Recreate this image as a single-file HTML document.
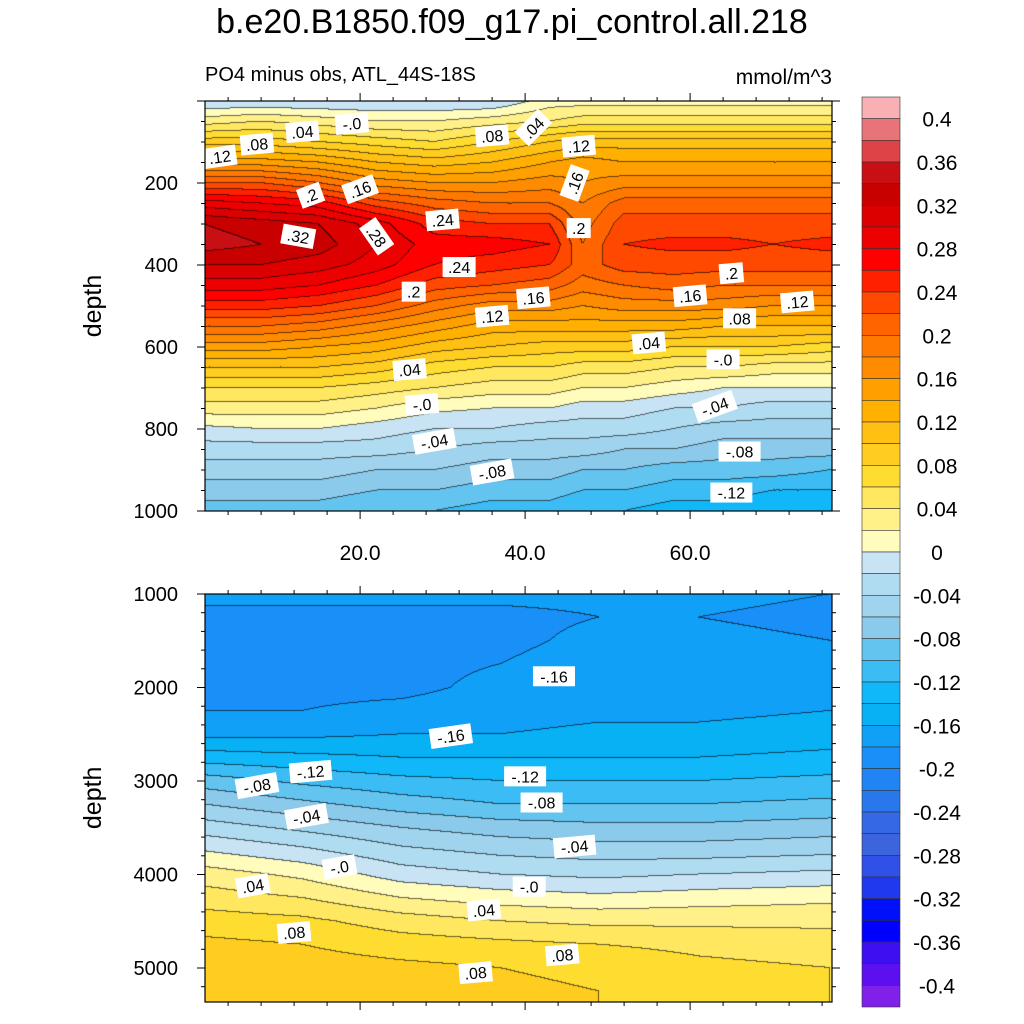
<!DOCTYPE html>
<html><head><meta charset="utf-8">
<style>
body{margin:0;background:#fff;width:1024px;height:1024px;overflow:hidden;font-family:"Liberation Sans",sans-serif}
#root{position:relative;width:1024px;height:1024px}
.t{position:absolute;white-space:nowrap;color:#000}
canvas{position:absolute}
svg{position:absolute;left:0;top:0}
</style></head><body>
<div id="root">
<div class="t" style="left:0;width:1024px;text-align:center;top:3px;font-size:34px">b.e20.B1850.f09_g17.pi_control.all.218</div>
<div class="t" style="left:205px;top:64px;font-size:20px">PO4 minus obs, ATL_44S-18S</div>
<div class="t" style="right:192px;top:66px;font-size:21px">mmol/m^3</div>
<canvas id="c1" width="627" height="410" style="left:205px;top:101px"></canvas>
<canvas id="c2" width="627" height="408" style="left:205px;top:594px"></canvas>
<svg id="ov" width="1024" height="1024"></svg>
</div>
<script>
// ---------- data ----------
const topLats=[1,8,15,22,29,36,43,47,52,58,64,70,77];
const topDepths=[0,50,100,150,200,250,300,350,400,450,500,550,600,650,700,750,800,850,900,950,1000];
const topVals=[
[-0.02,0.03,0.09,0.15,0.22,0.29,0.34,0.35,0.32,0.29,0.25,0.20,0.15,0.10,0.06,0.03,-0.005,-0.03,-0.05,-0.07,-0.09],
[-0.02,0.04,0.09,0.15,0.22,0.28,0.33,0.34,0.32,0.29,0.25,0.20,0.15,0.10,0.06,0.03,0.0,-0.03,-0.05,-0.07,-0.09],
[-0.02,0.03,0.08,0.14,0.20,0.27,0.32,0.33,0.31,0.28,0.24,0.19,0.14,0.10,0.06,0.03,0.0,-0.03,-0.05,-0.07,-0.09],
[-0.02,0.02,0.07,0.12,0.17,0.23,0.29,0.30,0.29,0.26,0.22,0.17,0.13,0.09,0.05,0.02,-0.01,-0.03,-0.06,-0.08,-0.10],
[-0.02,0.02,0.06,0.11,0.16,0.21,0.25,0.27,0.26,0.23,0.19,0.15,0.11,0.07,0.04,0.005,-0.02,-0.04,-0.06,-0.08,-0.10],
[-0.02,0.03,0.08,0.12,0.16,0.20,0.24,0.27,0.25,0.22,0.17,0.13,0.10,0.06,0.03,0.0,-0.02,-0.05,-0.07,-0.09,-0.11],
[0.01,0.04,0.10,0.14,0.17,0.20,0.24,0.26,0.24,0.21,0.17,0.13,0.09,0.06,0.03,0.0,-0.03,-0.05,-0.07,-0.09,-0.11],
[0.01,0.05,0.11,0.15,0.16,0.18,0.19,0.20,0.21,0.19,0.16,0.13,0.09,0.05,0.02,-0.01,-0.03,-0.05,-0.08,-0.10,-0.12],
[0.01,0.05,0.11,0.14,0.17,0.21,0.23,0.24,0.23,0.20,0.17,0.13,0.09,0.05,0.02,-0.01,-0.03,-0.06,-0.08,-0.10,-0.12],
[0.01,0.05,0.11,0.14,0.17,0.21,0.23,0.245,0.23,0.21,0.17,0.13,0.08,0.04,0.01,-0.02,-0.04,-0.06,-0.09,-0.11,-0.13],
[0.01,0.05,0.11,0.14,0.17,0.21,0.23,0.245,0.23,0.20,0.17,0.12,0.08,0.04,0.0,-0.02,-0.05,-0.07,-0.09,-0.11,-0.13],
[0.01,0.05,0.11,0.14,0.17,0.21,0.23,0.24,0.23,0.20,0.16,0.12,0.08,0.03,0.0,-0.03,-0.05,-0.07,-0.09,-0.12,-0.14],
[0.01,0.05,0.11,0.14,0.17,0.21,0.23,0.245,0.23,0.20,0.16,0.12,0.07,0.03,0.0,-0.03,-0.05,-0.07,-0.10,-0.12,-0.14]];
const botLats=[1,13,25,37,49,61,77];
const botDepths=[1000,1250,1500,1750,2000,2250,2500,2750,3000,3250,3500,3750,4000,4250,4500,4750,5000,5250,5500];
const botVals=[
[-0.175,-0.185,-0.19,-0.19,-0.19,-0.18,-0.165,-0.13,-0.09,-0.06,-0.03,0.0,0.03,0.05,0.07,0.085,0.09,0.09,0.09],
[-0.175,-0.185,-0.19,-0.19,-0.185,-0.18,-0.165,-0.135,-0.105,-0.075,-0.045,-0.015,0.015,0.04,0.065,0.08,0.09,0.09,0.09],
[-0.175,-0.185,-0.19,-0.185,-0.185,-0.175,-0.16,-0.14,-0.115,-0.09,-0.06,-0.035,-0.01,0.02,0.05,0.07,0.085,0.09,0.09],
[-0.175,-0.185,-0.185,-0.18,-0.175,-0.17,-0.16,-0.14,-0.12,-0.10,-0.07,-0.045,-0.02,0.01,0.04,0.065,0.08,0.085,0.085],
[-0.175,-0.18,-0.175,-0.17,-0.165,-0.165,-0.155,-0.14,-0.12,-0.10,-0.075,-0.05,-0.025,0.005,0.035,0.06,0.075,0.08,0.08],
[-0.175,-0.18,-0.175,-0.17,-0.165,-0.165,-0.155,-0.14,-0.12,-0.10,-0.075,-0.05,-0.02,0.01,0.035,0.055,0.065,0.07,0.07],
[-0.18,-0.185,-0.18,-0.17,-0.165,-0.16,-0.15,-0.135,-0.115,-0.095,-0.07,-0.045,-0.015,0.015,0.035,0.05,0.06,0.06,0.06]];
const cbColors=["#f8b0b4","#e8747a","#dc4448","#c81014","#c80000","#dc0000","#ec0000","#ff0000","#ff2000","#ff4800","#ff6400","#ff7800","#ff8c00","#ffa000","#ffb000","#ffc014","#ffcc20","#ffdc30","#ffe860","#fff088","#fffcbc","#c8e4f4","#b0dcf2","#a0d4ee","#8ccaec","#64c4f0","#3cbcf4","#10b8fa","#08b0f4","#10a0f8","#1890f8","#2084f4","#2878ec","#3468e4","#3c64dc","#3050e8","#2038ee","#0010f8","#0000ff","#3c10f0","#5c10f0","#8020e8"];
const cbLabels=["0.4","0.36","0.32","0.28","0.24","0.2","0.16","0.12","0.08","0.04","0","-0.04","-0.08","-0.12","-0.16","-0.2","-0.24","-0.28","-0.32","-0.36","-0.4"];
const topLabels=[[3,136,".12",-8],[7.5,105,".08",-5],[13,75,".04",-5],[19,55,"-.0",-5],[36,85,".08",-5],[41,65,".04",-45],[46.5,110,".12",-5],[46,200,".16",-70],[14,230,".2",-20],[20,215,".16",-20],[12.5,330,".32",10],[22,330,".28",55],[30,290,".24",-5],[46.5,310,".2",0],[32,405,".24",0],[26.5,465,".2",0],[36,525,".12",-5],[41,480,".16",-5],[60,475,".16",-5],[65,420,".2",-5],[73,490,".12",-5],[66,530,".08",0],[55,590,".04",-5],[64,630,"-.0",0],[26,655,".04",-5],[27.5,740,"-.0",-5],[29,830,"-.04",-10],[63,745,"-.04",-20],[36,905,"-.08",-10],[66,855,"-.08",0],[65,955,"-.12",0]];
const botLabels=[[43.5,1880,"-.16",0],[31,2520,"-.16",-8],[14,2900,"-.12",-5],[40,2950,"-.12",0],[7.5,3050,"-.08",-10],[42,3230,"-.08",0],[13.5,3380,"-.04",-10],[46,3700,"-.04",-5],[17.5,3920,"-.0",-10],[40.5,4130,"-.0",0],[7,4120,".04",-10],[35,4380,".04",-5],[12,4620,".08",-5],[44.5,4860,".08",-5],[34,5050,".08",-5]];
// ---------- axis functions ----------
const xT=l=>205+(l-1.2)*8.25;
const yTop=d=>101+d*0.41;
const yBot=d=>594+(d-1000)*0.0935;
function levelIdx(v){let k=Math.floor((0.42-v)/0.02);return Math.max(0,Math.min(41,k));}
function hex(c){return [parseInt(c.substr(1,2),16),parseInt(c.substr(3,2),16),parseInt(c.substr(5,2),16)];}
const rgb=cbColors.map(hex);
function interp(lats,deps,vals,lat,d){
 let i=0;while(i<lats.length-2&&lat>lats[i+1])i++;
 let j=0;while(j<deps.length-2&&d>deps[j+1])j++;
 let tx=Math.max(0,Math.min(1,(lat-lats[i])/(lats[i+1]-lats[i])));
 let ty=Math.max(0,Math.min(1,(d-deps[j])/(deps[j+1]-deps[j])));
 const a=vals[i][j],b=vals[i+1][j],c=vals[i][j+1],e=vals[i+1][j+1];
 return a*(1-tx)*(1-ty)+b*tx*(1-ty)+c*(1-tx)*ty+e*tx*ty;}
function render(id,lats,deps,vals,x0,y0,ys){
 const cv=document.getElementById(id),ctx=cv.getContext('2d');const W=cv.width,H=cv.height;
 const img=ctx.createImageData(W,H);const L=new Int16Array(W*H);
 for(let py=0;py<H;py++){const d=ys(py+y0+0.5);for(let px=0;px<W;px++){
  const lat=1.2+(px+0.5)/8.25;L[py*W+px]=levelIdx(interp(lats,deps,vals,lat,d));}}
 for(let py=0;py<H;py++)for(let px=0;px<W;px++){const k=py*W+px;let c=rgb[L[k]];
  let edge=(px<W-1&&L[k+1]!==L[k])||(py<H-1&&L[k+W]!==L[k]);
  const o=k*4;if(edge){img.data[o]=c[0]*0.4;img.data[o+1]=c[1]*0.4;img.data[o+2]=c[2]*0.4;}
  else{img.data[o]=c[0];img.data[o+1]=c[1];img.data[o+2]=c[2];}img.data[o+3]=255;}
 ctx.putImageData(img,0,0);}
render('c1',topLats,topDepths,topVals,205,101,y=>(y-101)/0.41);
render('c2',botLats,botDepths,botVals,205,594,y=>1000+(y-594)/0.0935);
// ---------- overlay ----------
const NS="http://www.w3.org/2000/svg";const ov=document.getElementById('ov');
function mk(tag,at,parent){const e=document.createElementNS(NS,tag);for(const k in at)e.setAttribute(k,at[k]);(parent||ov).appendChild(e);return e;}
function txt(x,y,s,size,anchor,name){const e=mk('text',{x:x,y:y,'font-size':size,'text-anchor':anchor||'middle','font-family':'Liberation Sans, sans-serif'});e.textContent=s;
 
 return e;}
function line(x1,y1,x2,y2,name){const e=mk('line',{x1:x1,y1:y1,x2:x2,y2:y2,stroke:'#000','stroke-width':1});
 
 }
function labelBox(x,y,s,rot,name){const g=mk('g',{transform:`translate(${x},${y}) rotate(${rot})`});
 
 
 const w=s.length*9+6;mk('rect',{x:-w/2,y:-10,width:w,height:20,fill:'#fff'},g);
 const t=mk('text',{x:0,y:6,'font-size':16,'text-anchor':'middle','font-family':'Liberation Sans, sans-serif'},g);t.textContent=s;}
topLabels.forEach(l=>labelBox(xT(l[0]),yTop(l[1]),l[2],l[3],'contour-label'));
botLabels.forEach(l=>labelBox(xT(l[0]),yBot(l[1]),l[2],l[3],'contour-label'));
// frames
[[101,511],[594,1002]].forEach((p,i)=>{const r=mk('rect',{x:205,y:p[0],width:627,height:p[1]-p[0],fill:'none',stroke:'#000','stroke-width':1.2});
 
 });
// x ticks
for(let lat=4;lat<=76;lat+=4){const x=xT(lat);const maj=lat%20===0;const len=maj?8:4;
 [[101,511],[594,1002]].forEach(p=>{line(x,p[0],x,p[0]-len,'x-tick');line(x,p[1],x,p[1]+len,'x-tick');});
 if(maj)txt(x,560,lat.toFixed(1),21,'middle','x-tick-label');}
// y ticks
for(let d=0;d<=1000;d+=50){const y=yTop(d);const maj=d%200===0;const len=maj?8:4;
 line(205,y,205-len,y,'y-tick');line(832,y,832+len,y,'y-tick');
 if(maj&&d>0)txt(178,y+7,String(d),20,'end','y-tick-label');}
for(let d=1000;d<=5300;d+=200){const y=yBot(d);const maj=d%1000===0;const len=maj?8:4;
 line(205,y,205-len,y,'y-tick');line(832,y,832+len,y,'y-tick');
 if(maj)txt(178,y+7,String(d),20,'end','y-tick-label');}
[[yTop(500),'top-y-axis-title'],[yBot(3180),'bottom-y-axis-title']].forEach(a=>{const t=txt(0,0,'depth',25,'middle',a[1]);t.setAttribute('transform',`translate(101,${a[0]}) rotate(-90)`);});
// colorbar
const cbTop=97,bh=910/42;
cbColors.forEach((c,i)=>{const r=mk('rect',{x:862,y:cbTop+i*bh,width:38,height:bh,fill:c,stroke:'#333','stroke-width':0.6});
 
 });
cbLabels.forEach((s,i)=>{const y=cbTop+(1+2*i)*bh;txt(937,y+8,s,21,'middle','colorbar-label');});
</script>
</body></html>
